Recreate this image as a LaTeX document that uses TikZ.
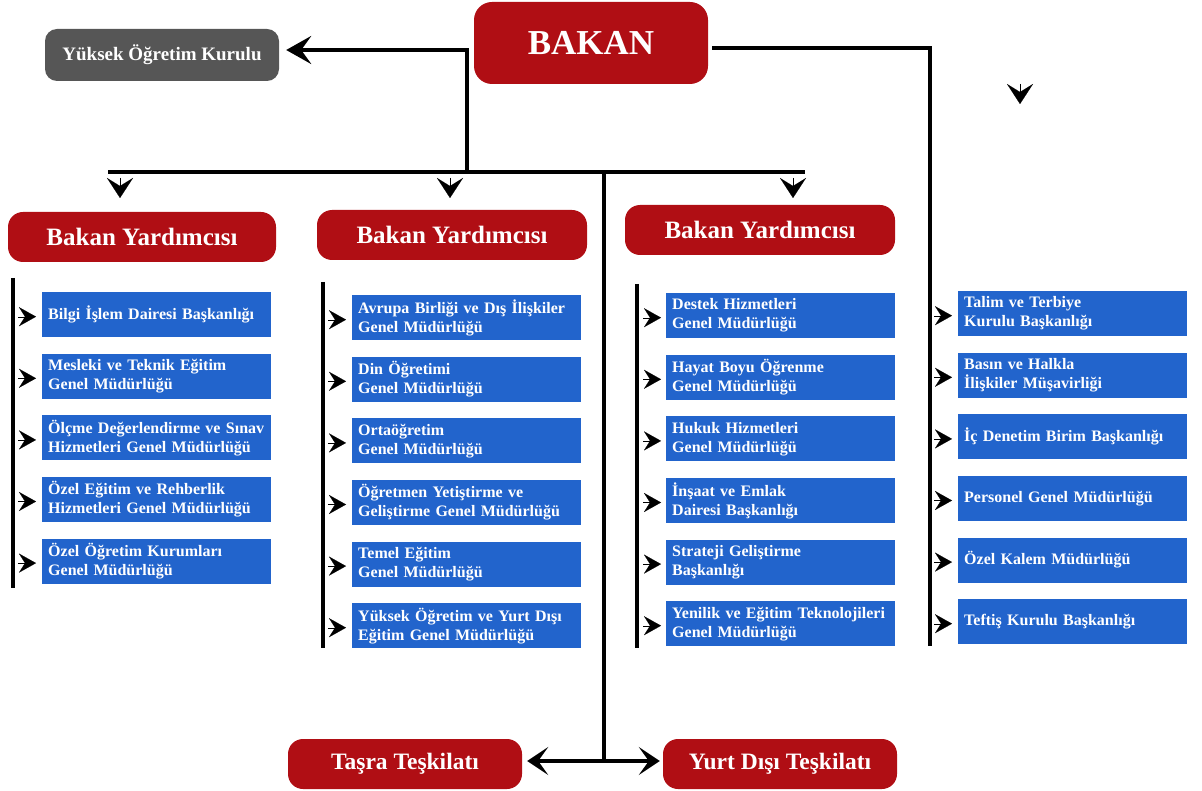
\documentclass[tikz,border=0pt]{standalone}
\usepackage{fontspec}
\setmainfont{Liberation Serif}
\usepackage{xcolor}
\usetikzlibrary{positioning, arrows.meta, calc}

\definecolor{bakanred}{RGB}{176,14,20}
\definecolor{birimblue}{RGB}{34,100,204}
\definecolor{yokgray}{RGB}{86,86,86}

\begin{document}
\begin{tikzpicture}[x=1pt, y=-1pt,
    redbox/.style={fill=bakanred, rounded corners=15pt, text=white, inner sep=0pt,
      minimum width=234pt, minimum height=50pt, font=\bfseries\fontsize{23.5}{26}\selectfont},
    topbox/.style={redbox, minimum height=82pt, rounded corners=18pt,
      font=\bfseries\fontsize{35}{40}\selectfont},
    graybox/.style={redbox, fill=yokgray, minimum height=52pt, rounded corners=12pt,
      font=\bfseries\fontsize{19}{22}\selectfont},
    birim/.style={fill=birimblue, text=white, anchor=north west, align=left,
      text width=217pt, inner xsep=6pt, inner ysep=0pt, minimum height=45pt,
      font=\bfseries\fontsize{16}{19}\selectfont},
    bar/.style={line width=4pt},
    conn/.style={bar, -{Stealth[length=25pt, width=28pt, inset=10pt]}},
    connB/.style={bar, -{Stealth[length=21pt, width=28pt, inset=10pt]}},
    tipD/.style={line width=0.1pt, -{Stealth[length=20pt, width=26pt, inset=8pt]}},
    tipR/.style={line width=0.1pt, -{Stealth[length=17pt, width=19pt, inset=6pt]}}]

    \useasboundingbox (0,0) rectangle (1202,791);

    % Minister and council
    \node[topbox] (bakan) at (591,43) {BAKAN};
    \node[graybox] (yok) at (162,55) {Yüksek Öğretim Kurulu};

    % Deputy ministers
    \node[redbox, minimum width=268pt, font=\bfseries\fontsize{25}{28}\selectfont] (by1) at (142,237) {Bakan Yardımcısı};
    \node[redbox, minimum width=270pt, font=\bfseries\fontsize{25}{28}\selectfont] (by2) at (452,235) {Bakan Yardımcısı};
    \node[redbox, minimum width=270pt, font=\bfseries\fontsize{25}{28}\selectfont] (by3) at (760,230) {Bakan Yardımcısı};

    % Field and abroad organisation
    \node[redbox] (tasra) at (405,764) {Taşra Teşkilatı};
    \node[redbox] (yurtdisi) at (780,764) {Yurt Dışı Teşkilatı};

    % Junctions
    \coordinate (jtop) at (467,50);
    \coordinate (jbus) at (467,172);
    \coordinate (busL) at (108,172);
    \coordinate (busR) at (805,172);
    \coordinate (jmid) at (604,172);
    \coordinate (jbot) at (604,761);
    \coordinate (rtop) at (930,48);
    \coordinate (rbot) at (930,646);
    \coordinate (stray) at (1020,84);

    % Main lines
    \draw[conn] (jbus) -- (jtop) -- ($(yok.east)+(7,-5)$);
    \draw[bar] (busL) -- (busR);
    \draw[bar] ($(bakan.east)+(4,5)$) -- (rtop) -- (rbot);
    \draw[bar] (jmid) -- (jbot);
    \draw[connB] (jbot) -- ($(tasra.east)+(5,-3)$);
    \draw[connB] (jbot) -- ($(yurtdisi.west)+(-3,-3)$);

    % Arrow heads under the bus
    \foreach \x in {120,450,793} \draw[tipD] (\x,178) -- ++(0,20);
    \draw[tipD] (stray) -- ++(0,20);

    % Column lines
    \coordinate (c1top) at (13,278);  \coordinate (c1bot) at (13,588);
    \coordinate (c2top) at (323,282); \coordinate (c2bot) at (323,648);
    \coordinate (c3top) at (637,284); \coordinate (c3bot) at (637,648);
    \draw[bar] (c1top) -- (c1bot);
    \draw[bar] (c2top) -- (c2bot);
    \draw[bar] (c3top) -- (c3bot);

    % Column 1
    \foreach \t [count=\i from 0] in {{Bilgi İşlem Dairesi Başkanlığı},
        {Mesleki ve Teknik Eğitim\\Genel Müdürlüğü},
        {Ölçme Değerlendirme ve Sınav\\Hizmetleri Genel Müdürlüğü},
        {Özel Eğitim ve Rehberlik\\Hizmetleri Genel Müdürlüğü},
        {Özel Öğretim Kurumları\\Genel Müdürlüğü}} {
      \node[birim] (a\i) at (42,{292+61.6*\i}) {\t};
      \draw[tipR] ($(a\i.west)+(-24,2)$) -- ($(a\i.west)+(-6,2)$);
    }

    % Column 2
    \foreach \t [count=\i from 0] in {{Avrupa Birliği ve Dış İlişkiler\\Genel Müdürlüğü},
        {Din Öğretimi\\Genel Müdürlüğü},
        {Ortaöğretim\\Genel Müdürlüğü},
        {Öğretmen Yetiştirme ve\\Geliştirme Genel Müdürlüğü},
        {Temel Eğitim\\Genel Müdürlüğü},
        {Yüksek Öğretim ve Yurt Dışı\\Eğitim Genel Müdürlüğü}} {
      \node[birim] (b\i) at (352,{295+61.6*\i}) {\t};
      \draw[tipR] ($(b\i.west)+(-24,2)$) -- ($(b\i.west)+(-6,2)$);
    }

    % Column 3
    \foreach \t [count=\i from 0] in {{Destek Hizmetleri\\Genel Müdürlüğü},
        {Hayat Boyu Öğrenme\\Genel Müdürlüğü},
        {Hukuk Hizmetleri\\Genel Müdürlüğü},
        {İnşaat ve Emlak\\Dairesi Başkanlığı},
        {Strateji Geliştirme\\Başkanlığı},
        {Yenilik ve Eğitim Teknolojileri\\Genel Müdürlüğü}} {
      \node[birim] (c\i) at (666,{293+61.6*\i}) {\t};
      \draw[tipR] ($(c\i.west)+(-23,2)$) -- ($(c\i.west)+(-5,2)$);
    }

    % Column 4
    \foreach \t [count=\i from 0] in {{Talim ve Terbiye\\Kurulu Başkanlığı},
        {Basın ve Halkla\\İlişkiler Müşavirliği},
        {İç Denetim Birim Başkanlığı},
        {Personel Genel Müdürlüğü},
        {Özel Kalem Müdürlüğü},
        {Teftiş Kurulu Başkanlığı}} {
      \node[birim] (d\i) at (958,{291+61.6*\i}) {\t};
      \draw[tipR] ($(d\i.west)+(-24,2)$) -- ($(d\i.west)+(-6,2)$);
    }
\end{tikzpicture}
\end{document}
